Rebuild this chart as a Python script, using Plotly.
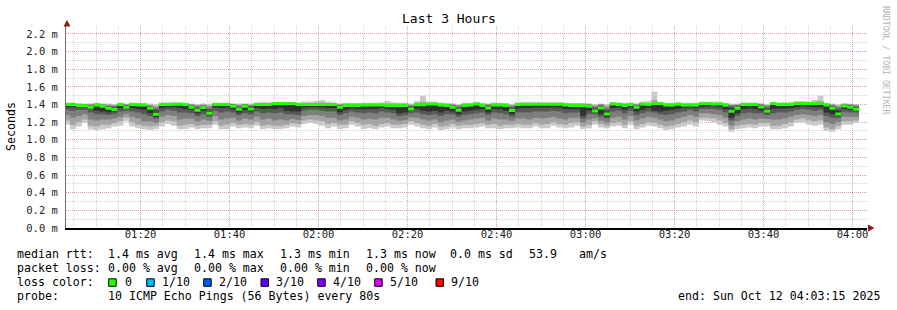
import plotly.graph_objects as go
from datetime import datetime, timedelta

# ---------------- data ----------------
title_text = "Last 3 Hours"
x_start = datetime(2025, 10, 12, 1, 3, 15)
x_end = datetime(2025, 10, 12, 4, 3, 15)
data_start = datetime(2025, 10, 12, 1, 2, 48)
step_seconds = 80
tick_times = ["01:20", "01:40", "02:00", "02:20", "02:40", "03:00", "03:20", "03:40", "04:00"]
y_tick_vals = [0.0, 0.2, 0.4, 0.6, 0.8, 1.0, 1.2, 1.4, 1.6, 1.8, 2.0, 2.2]
y_tick_text = ["0.0 m", "0.2 m", "0.4 m", "0.6 m", "0.8 m", "1.0 m", "1.2 m", "1.4 m",
               "1.6 m", "1.8 m", "2.0 m", "2.2 m"]

# median RTT per 80 s step (microseconds)
median_us = [
    1400, 1400, 1390, 1385, 1370, 1395, 1380, 1357, 1342, 1400,
    1370, 1400, 1395, 1395, 1357, 1290, 1400, 1400, 1403, 1403,
    1400, 1370, 1335, 1365, 1300, 1400, 1400, 1400, 1380, 1346,
    1380, 1350, 1400, 1400, 1400, 1410, 1410, 1410, 1410, 1400,
    1400, 1400, 1400, 1400, 1400, 1400, 1368, 1388, 1388, 1388,
    1395, 1395, 1395, 1395, 1388, 1388, 1390, 1390, 1350, 1397,
    1397, 1406, 1406, 1395, 1388, 1368, 1334, 1388, 1395, 1406,
    1390, 1360, 1395, 1395, 1388, 1331, 1400, 1402, 1402, 1402,
    1402, 1402, 1402, 1402, 1395, 1390, 1390, 1390, 1380, 1327,
    1360, 1293, 1406, 1400, 1388, 1400, 1368, 1406, 1400, 1410,
    1410, 1395, 1395, 1403, 1391, 1395, 1391, 1410, 1410, 1406,
    1406, 1391, 1323, 1357, 1400, 1400, 1400, 1372, 1323, 1410,
    1400, 1400, 1400, 1410, 1410, 1410, 1410, 1410, 1395, 1357,
    1293, 1384, 1368, 1345,
]
# sorted pings (1 = fastest ... 10 = slowest), microseconds
ping1_us = [
    1170, 1120, 1150, 1190, 1120, 1110, 1120, 1130, 1150, 1160,
    1210, 1150, 1130, 1120, 1110, 1120, 1150, 1180, 1160, 1120,
    1120, 1140, 1120, 1130, 1130, 1170, 1120, 1120, 1150, 1130,
    1140, 1130, 1160, 1120, 1130, 1120, 1120, 1130, 1150, 1140,
    1180, 1190, 1180, 1160, 1130, 1150, 1120, 1130, 1170, 1150,
    1120, 1130, 1120, 1140, 1150, 1130, 1130, 1140, 1170, 1150,
    1130, 1120, 1140, 1110, 1120, 1140, 1120, 1130, 1130, 1140,
    1150, 1130, 1130, 1120, 1130, 1130, 1140, 1130, 1130, 1150,
    1130, 1130, 1160, 1140, 1130, 1140, 1160, 1120, 1130, 1170,
    1140, 1130, 1150, 1160, 1130, 1170, 1120, 1140, 1160, 1150,
    1130, 1110, 1120, 1140, 1150, 1170, 1150, 1220, 1210, 1200,
    1170, 1150, 1090, 1120, 1130, 1140, 1130, 1150, 1150, 1120,
    1120, 1130, 1150, 1190, 1200, 1170, 1160, 1170, 1100, 1090,
    1120, 1170, 1170, 1190,
]
ping2_us = [
    1220, 1170, 1200, 1230, 1160, 1150, 1170, 1170, 1190, 1210,
    1250, 1200, 1170, 1160, 1150, 1160, 1200, 1220, 1210, 1160,
    1170, 1180, 1160, 1170, 1170, 1210, 1160, 1170, 1190, 1170,
    1180, 1170, 1200, 1160, 1170, 1160, 1160, 1170, 1190, 1180,
    1220, 1230, 1220, 1210, 1180, 1190, 1170, 1170, 1210, 1190,
    1170, 1180, 1160, 1180, 1190, 1170, 1170, 1180, 1210, 1190,
    1170, 1160, 1180, 1150, 1160, 1180, 1160, 1170, 1170, 1180,
    1190, 1170, 1180, 1160, 1170, 1170, 1180, 1170, 1170, 1190,
    1170, 1180, 1200, 1180, 1170, 1190, 1200, 1150, 1170, 1210,
    1180, 1160, 1190, 1200, 1170, 1210, 1160, 1180, 1200, 1190,
    1170, 1150, 1160, 1180, 1200, 1220, 1200, 1250, 1250, 1240,
    1220, 1190, 1120, 1160, 1170, 1180, 1170, 1190, 1190, 1160,
    1160, 1180, 1200, 1230, 1240, 1220, 1210, 1220, 1140, 1120,
    1160, 1210, 1210, 1220,
]
ping3_us = [
    1280, 1250, 1270, 1290, 1230, 1220, 1230, 1230, 1240, 1260,
    1290, 1260, 1240, 1210, 1210, 1195, 1260, 1280, 1270, 1230,
    1240, 1240, 1210, 1230, 1215, 1270, 1230, 1240, 1250, 1220,
    1240, 1230, 1260, 1230, 1240, 1220, 1230, 1220, 1235, 1225,
    1270, 1280, 1280, 1270, 1250, 1250, 1220, 1230, 1260, 1250,
    1230, 1240, 1230, 1250, 1250, 1230, 1215, 1225, 1255, 1250,
    1230, 1220, 1230, 1200, 1220, 1230, 1205, 1220, 1230, 1240,
    1250, 1220, 1240, 1230, 1230, 1215, 1240, 1240, 1230, 1250,
    1240, 1250, 1260, 1240, 1230, 1250, 1250, 1195, 1230, 1245,
    1215, 1195, 1250, 1260, 1230, 1270, 1220, 1240, 1260, 1250,
    1230, 1210, 1220, 1240, 1260, 1280, 1260, 1300, 1300, 1290,
    1280, 1250, 1165, 1210, 1230, 1240, 1230, 1240, 1235, 1230,
    1230, 1240, 1260, 1280, 1290, 1280, 1270, 1280, 1200, 1180,
    1205, 1260, 1260, 1260,
]
ping4_us = [
    1340, 1330, 1340, 1340, 1310, 1290, 1290, 1280, 1290, 1320,
    1330, 1320, 1310, 1290, 1270, 1240, 1320, 1340, 1330, 1310,
    1310, 1300, 1270, 1290, 1260, 1330, 1310, 1320, 1310, 1280,
    1300, 1290, 1320, 1300, 1310, 1300, 1310, 1290, 1290, 1280,
    1330, 1340, 1340, 1330, 1320, 1320, 1280, 1300, 1320, 1310,
    1300, 1310, 1300, 1320, 1310, 1300, 1270, 1280, 1300, 1310,
    1290, 1280, 1290, 1270, 1290, 1290, 1260, 1280, 1290, 1300,
    1310, 1280, 1310, 1300, 1290, 1260, 1310, 1310, 1310, 1320,
    1320, 1320, 1330, 1320, 1300, 1310, 1310, 1240, 1290, 1290,
    1260, 1240, 1320, 1330, 1300, 1330, 1280, 1300, 1320, 1310,
    1290, 1280, 1290, 1310, 1320, 1340, 1320, 1350, 1350, 1350,
    1340, 1310, 1220, 1270, 1300, 1310, 1300, 1300, 1280, 1300,
    1310, 1310, 1320, 1340, 1350, 1340, 1330, 1340, 1270, 1250,
    1250, 1320, 1310, 1310,
]
ping5_us = [
    1370, 1370, 1370, 1365, 1350, 1330, 1320, 1310, 1320, 1360,
    1355, 1360, 1350, 1340, 1300, 1260, 1360, 1370, 1370, 1360,
    1350, 1340, 1300, 1330, 1280, 1370, 1360, 1365, 1345, 1310,
    1340, 1320, 1360, 1350, 1355, 1350, 1360, 1330, 1320, 1320,
    1365, 1370, 1370, 1365, 1360, 1360, 1310, 1340, 1355, 1350,
    1345, 1350, 1350, 1360, 1350, 1340, 1300, 1310, 1325, 1350,
    1330, 1320, 1330, 1310, 1330, 1320, 1290, 1320, 1330, 1340,
    1350, 1310, 1350, 1345, 1330, 1290, 1355, 1360, 1360, 1365,
    1365, 1365, 1370, 1365, 1350, 1350, 1345, 1270, 1330, 1310,
    1290, 1260, 1360, 1365, 1340, 1365, 1320, 1340, 1360, 1330,
    1320, 1330, 1340, 1350, 1360, 1370, 1360, 1375, 1380, 1380,
    1375, 1345, 1250, 1300, 1350, 1355, 1350, 1330, 1300, 1350,
    1355, 1355, 1360, 1370, 1380, 1375, 1370, 1370, 1310, 1290,
    1270, 1350, 1340, 1330,
]
ping6_us = [
    1400, 1400, 1395, 1392, 1380, 1398, 1385, 1370, 1360, 1402,
    1380, 1402, 1398, 1398, 1370, 1320, 1402, 1402, 1405, 1405,
    1402, 1380, 1350, 1375, 1320, 1402, 1402, 1402, 1390, 1360,
    1390, 1365, 1402, 1402, 1402, 1412, 1412, 1412, 1412, 1402,
    1402, 1402, 1402, 1402, 1402, 1402, 1380, 1395, 1395, 1395,
    1398, 1398, 1398, 1398, 1395, 1395, 1395, 1395, 1365, 1400,
    1400, 1408, 1408, 1398, 1392, 1380, 1350, 1395, 1398, 1408,
    1395, 1375, 1398, 1398, 1395, 1350, 1402, 1405, 1405, 1405,
    1405, 1405, 1405, 1405, 1398, 1395, 1395, 1395, 1388, 1345,
    1375, 1320, 1408, 1402, 1395, 1402, 1380, 1408, 1402, 1412,
    1412, 1398, 1398, 1405, 1395, 1398, 1395, 1412, 1412, 1408,
    1408, 1395, 1360, 1370, 1402, 1402, 1402, 1385, 1345, 1412,
    1402, 1402, 1402, 1412, 1412, 1412, 1412, 1412, 1398, 1370,
    1330, 1392, 1380, 1360,
]
ping7_us = [
    1405, 1402, 1400, 1398, 1390, 1402, 1395, 1380, 1375, 1405,
    1390, 1405, 1402, 1400, 1380, 1350, 1405, 1405, 1408, 1408,
    1405, 1390, 1370, 1385, 1350, 1405, 1405, 1405, 1398, 1375,
    1398, 1380, 1405, 1406, 1406, 1415, 1415, 1415, 1415, 1406,
    1406, 1406, 1406, 1406, 1406, 1405, 1390, 1400, 1400, 1400,
    1402, 1402, 1402, 1402, 1400, 1400, 1400, 1400, 1380, 1405,
    1405, 1412, 1412, 1402, 1398, 1390, 1370, 1400, 1402, 1412,
    1400, 1388, 1402, 1402, 1400, 1370, 1406, 1408, 1408, 1408,
    1408, 1408, 1408, 1408, 1402, 1400, 1400, 1400, 1395, 1365,
    1388, 1345, 1412, 1406, 1400, 1406, 1390, 1412, 1406, 1416,
    1415, 1402, 1402, 1408, 1400, 1402, 1400, 1416, 1416, 1412,
    1412, 1400, 1380, 1385, 1406, 1406, 1406, 1395, 1370, 1416,
    1406, 1406, 1406, 1416, 1416, 1416, 1416, 1416, 1402, 1385,
    1355, 1398, 1390, 1375,
]
ping8_us = [
    1408, 1405, 1402, 1402, 1398, 1405, 1400, 1390, 1385, 1408,
    1398, 1408, 1405, 1404, 1390, 1370, 1408, 1408, 1412, 1412,
    1408, 1398, 1385, 1395, 1375, 1408, 1408, 1408, 1402, 1390,
    1402, 1392, 1408, 1410, 1410, 1418, 1418, 1418, 1418, 1410,
    1410, 1410, 1410, 1412, 1410, 1408, 1398, 1405, 1405, 1405,
    1406, 1406, 1406, 1406, 1405, 1405, 1405, 1405, 1390, 1410,
    1412, 1416, 1416, 1406, 1402, 1398, 1385, 1405, 1406, 1416,
    1405, 1398, 1406, 1406, 1405, 1385, 1410, 1412, 1412, 1412,
    1412, 1412, 1412, 1412, 1406, 1405, 1405, 1405, 1400, 1380,
    1398, 1370, 1416, 1410, 1405, 1410, 1398, 1416, 1410, 1420,
    1418, 1406, 1406, 1412, 1405, 1406, 1405, 1420, 1420, 1416,
    1416, 1405, 1392, 1395, 1410, 1410, 1410, 1402, 1385, 1420,
    1410, 1410, 1410, 1420, 1420, 1420, 1420, 1422, 1406, 1395,
    1375, 1402, 1398, 1388,
]
ping9_us = [
    1412, 1410, 1408, 1405, 1405, 1410, 1405, 1400, 1395, 1412,
    1405, 1412, 1410, 1408, 1398, 1385, 1412, 1415, 1418, 1418,
    1412, 1405, 1395, 1402, 1390, 1412, 1412, 1412, 1406, 1400,
    1406, 1400, 1412, 1415, 1415, 1422, 1422, 1422, 1422, 1415,
    1418, 1418, 1420, 1425, 1418, 1412, 1405, 1410, 1410, 1410,
    1412, 1412, 1412, 1412, 1415, 1412, 1410, 1410, 1400, 1420,
    1430, 1422, 1422, 1412, 1408, 1405, 1395, 1410, 1412, 1422,
    1410, 1405, 1412, 1412, 1410, 1395, 1415, 1418, 1418, 1418,
    1418, 1418, 1418, 1418, 1412, 1410, 1410, 1410, 1406, 1392,
    1405, 1390, 1420, 1415, 1410, 1415, 1405, 1420, 1418, 1450,
    1422, 1412, 1412, 1418, 1410, 1412, 1410, 1425, 1425, 1420,
    1420, 1410, 1400, 1402, 1415, 1415, 1415, 1408, 1395, 1425,
    1415, 1415, 1418, 1428, 1428, 1425, 1430, 1440, 1412, 1402,
    1390, 1408, 1405, 1396,
]
ping10_us = [
    1420, 1420, 1415, 1412, 1415, 1420, 1415, 1410, 1405, 1420,
    1412, 1422, 1420, 1418, 1410, 1400, 1422, 1425, 1428, 1425,
    1420, 1412, 1405, 1410, 1405, 1422, 1420, 1420, 1415, 1410,
    1415, 1410, 1422, 1428, 1425, 1430, 1430, 1428, 1428, 1425,
    1435, 1432, 1440, 1450, 1430, 1422, 1415, 1420, 1418, 1418,
    1420, 1420, 1420, 1425, 1440, 1425, 1420, 1420, 1410, 1440,
    1500, 1432, 1430, 1422, 1418, 1415, 1405, 1420, 1420, 1430,
    1420, 1415, 1422, 1420, 1418, 1405, 1425, 1428, 1430, 1428,
    1428, 1425, 1425, 1428, 1420, 1418, 1418, 1418, 1415, 1402,
    1412, 1402, 1428, 1425, 1420, 1422, 1415, 1430, 1440, 1545,
    1430, 1420, 1420, 1428, 1420, 1420, 1420, 1432, 1432, 1430,
    1430, 1420, 1410, 1410, 1425, 1422, 1422, 1415, 1405, 1432,
    1425, 1425, 1430, 1440, 1440, 1435, 1450, 1500, 1420, 1410,
    1400, 1415, 1412, 1405,
]

# ---------------- geometry helpers (styling only) ----------------
PL, PR, PT, PB = 66, 867, 26, 228
FIG_W, FIG_H = 897, 310


def px(x):
    return (x - PL) / (PR - PL)


def py(y):
    return (PB - y) / (PB - PT)


def ms(a):
    return [v / 1000.0 for v in a]


n = len(median_us)
xs = [data_start + timedelta(seconds=step_seconds * k) for k in range(n + 1)]


def ext(a):
    return list(a) + [a[-1]]


fig = go.Figure()

smoke_colors = ["#cacaca", "#a4a4a4", "#7e7e7e", "#585858", "#323232"]
pings = [ping1_us, ping2_us, ping3_us, ping4_us, ping5_us,
         ping6_us, ping7_us, ping8_us, ping9_us, ping10_us]
for i, col in enumerate(smoke_colors):
    lo, hi = ms(pings[i]), ms(pings[9 - i])
    fig.add_trace(go.Scatter(x=xs, y=ext(lo), mode="lines", line=dict(width=0, shape="hv"),
                             hoverinfo="skip"))
    fig.add_trace(go.Scatter(x=xs, y=ext(hi), mode="lines", line=dict(width=0, shape="hv"),
                             fill="tonexty", fillcolor=col, hoverinfo="skip"))

med = ms(median_us)
half = 0.017
fig.add_trace(go.Scatter(x=xs, y=ext([m - half for m in med]), mode="lines",
                         line=dict(width=0, shape="hv"), hoverinfo="skip"))
fig.add_trace(go.Scatter(x=xs, y=ext([m + half for m in med]), mode="lines",
                         line=dict(width=0, shape="hv"), fill="tonexty", fillcolor="#26ff00",
                         hoverinfo="skip"))

MONO = "DejaVu Sans Mono"
tickvals_x = [datetime(2025, 10, 12, int(t[:2]), int(t[3:])) for t in tick_times]
MAJ = "rgba(255,0,0,0.24)"
MIN = "rgba(0,0,0,0.17)"

fig.update_xaxes(
    type="date", range=[x_start, x_end], tickvals=tickvals_x, ticktext=tick_times,
    showgrid=True, gridcolor=MAJ, griddash="1px,1px", gridwidth=1,
    minor=dict(dtick=300000, tick0=datetime(2025, 10, 12, 1, 0), showgrid=True,
               gridcolor=MIN, griddash="1px,1px", gridwidth=1),
    showline=True, linecolor="black", linewidth=2, zeroline=False, ticks="",
    tickfont=dict(family=MONO, size=10.5, color="#222"), ticklabelstandoff=-5,
)
fig.update_yaxes(
    range=[0, 2.29], tickvals=y_tick_vals, ticktext=y_tick_text,
    showgrid=True, gridcolor=MAJ, griddash="1px,1px", gridwidth=1,
    minor=dict(dtick=0.1, tick0=0, showgrid=True, gridcolor=MIN,
               griddash="1px,1px", gridwidth=1),
    showline=True, linecolor="#707070", linewidth=1, zeroline=False, ticks="",
    tickfont=dict(family=MONO, size=10.5, color="#222"), ticklabelstandoff=5,
)

shapes = []
# axis arrows
shapes.append(dict(type="path", xref="paper", yref="paper", layer="above",
                   path=f"M {px(63.5)} {py(26.5)} L {px(67)} {py(20)} L {px(70.5)} {py(26.5)} Z",
                   fillcolor="#8b1a1a", line=dict(width=0)))
shapes.append(dict(type="path", xref="paper", yref="paper", layer="above",
                   path=f"M {px(868)} {py(224.5)} L {px(874.5)} {py(228)} L {px(868)} {py(231.5)} Z",
                   fillcolor="#8b1a1a", line=dict(width=0)))

ann = []


def text(x, y, s, size=11.6, color="black", anchor="left", angle=0, font=MONO):
    ann.append(dict(x=px(x), y=py(y), xref="paper", yref="paper", text=s, showarrow=False,
                    xanchor=anchor, yanchor="middle", textangle=angle, borderpad=0,
                    font=dict(family=font, size=size, color=color)))


text(448.5, 19, title_text, size=13, anchor="center")
text(11, 127, "Seconds", size=11.6, anchor="center", angle=-90)
text(886, 60, "RRDTOOL / TOBI OETIKER", size=8.2, color="#b4b4b4", anchor="center", angle=90)

row1 = [(15.5, "median rtt:"), (106.5, "1.4 ms avg"), (192.5, "1.4 ms max"), (278.5, "1.3 ms min"),
        (364.5, "1.3 ms now"), (449, "0.0 ms sd"), (528, "53.9"), (577.5, "am/s")]
row2 = [(15.5, "packet loss:"), (106.5, "0.00 % avg"), (192.5, "0.00 % max"), (278.5, "0.00 % min"),
        (364.5, "0.00 % now")]
for x, s in row1:
    text(x, 254.3, s)
for x, s in row2:
    text(x, 267.7, s)
text(15.5, 282.3, "loss color:")
loss_labels = ["0", "1/10", "2/10", "3/10", "4/10", "5/10", "9/10"]
loss_colors = ["#26ff00", "#00b8ff", "#0059ff", "#5e00ff", "#7e00ff", "#dd00ff", "#ff0000"]
box_x = [108.7, 146.7, 203.7, 261, 317.7, 374.7, 436]
lab_x = [123.5, 160.5, 217.5, 274.5, 331.5, 388.5, 449.5]
for bx, lx, lab, col in zip(box_x, lab_x, loss_labels, loss_colors):
    shapes.append(dict(type="rect", xref="paper", yref="paper",
                       x0=px(bx), x1=px(bx + 7.5), y0=py(278.8), y1=py(286.3),
                       fillcolor=col, line=dict(color="black", width=1)))
    text(lx, 282.3, lab)
text(15.5, 296, "probe:")
text(106.5, 296, "10 ICMP Echo Pings (56 Bytes) every 80s")
text(880.5, 296, "end: Sun Oct 12 04:03:15 2025", anchor="right")

fig.update_layout(
    width=FIG_W, height=FIG_H, margin=dict(l=PL, r=FIG_W - PR, t=PT, b=FIG_H - PB),
    paper_bgcolor="white", plot_bgcolor="white", showlegend=False,
    shapes=shapes, annotations=ann,
)

fig.write_html("out.html")
